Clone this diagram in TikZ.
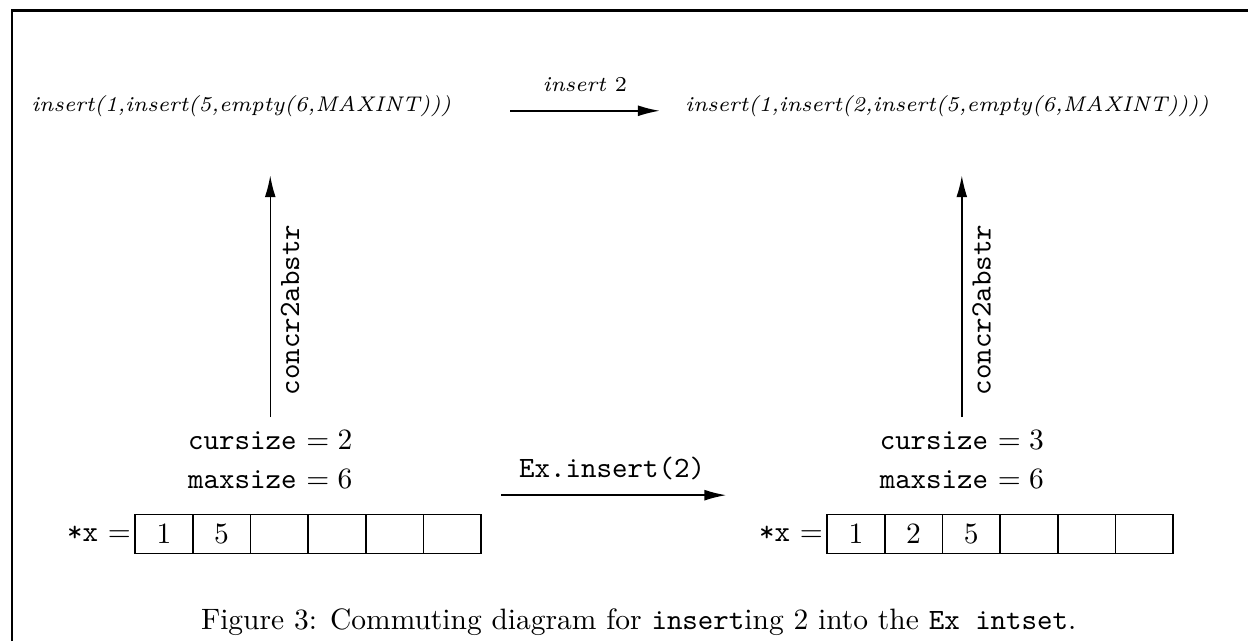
\documentclass[tikz,border=0pt]{standalone}
\usetikzlibrary{arrows.meta}
\tikzset{%
  abstr/.style = {font=\fontsize{7.2}{9}\selectfont\itshape},%
  state/.style = {anchor=base},%
  cell/.style  = {draw, line width=0.5pt, inner sep=0pt,%
                  minimum width=6.87mm, minimum height=4.65mm},%
  map/.style   = {-{Latex[length=2.6mm,width=1.3mm]}, line width=0.5pt}%
}

\begin{document}
\begin{tikzpicture}[every node/.style = {font=\normalsize}]
		\useasboundingbox (0,0) rectangle (14.87,7.64);
		\draw[line width=1pt] (0.143,0) -- (0.143,7.51) -- (14.87,7.51);
		% abstract values
		\node[abstr, anchor=base west, inner sep=0pt] (labs) at (0.37,6.31) {insert(1,insert(5,empty(6,MAXINT)))};
		\node[abstr, anchor=base west, inner sep=0pt] (rabs) at (8.16,6.31) {insert(1,insert(2,insert(5,empty(6,MAXINT))))};
		\coordinate (ins0) at (6.08,6.32);
		\coordinate (ins1) at (7.86,6.32);
		% concrete states
		\node[state] (lcur) at (3.22,2.28) {\texttt{cursize} $=2$};
		\node[state] (lmax) at (3.22,1.82) {\texttt{maxsize} $=6$};
		\node[state] (rcur) at (11.46,2.28) {\texttt{cursize} $=3$};
		\node[state] (rmax) at (11.46,1.82) {\texttt{maxsize} $=6$};
		\foreach \i/\v in {1/1,2/5,3/,4/,5/,6/}
			\node[cell] (L\i) at ({1.953+0.6874*(\i-1)},1.28) {$\v$};
		\foreach \i/\v in {1/1,2/2,3/5,4/,5/,6/}
			\node[cell] (R\i) at ({10.198+0.6874*(\i-1)},1.28) {$\v$};
		\node[anchor=east, inner sep=1pt] (lstar) at (L1.west) {\texttt{*x} $=$};
		\node[anchor=east, inner sep=1pt] (rstar) at (R1.west) {\texttt{*x} $=$};
		% the maps
		\draw[map] (ins0) -- (ins1)
			node [midway, above=1mm, abstr] {insert~\upshape 2};
		\draw[map, shorten <=0.4mm] (lcur.north) -- (lcur.north |- 0,5.55)
			node [pos=0.45, rotate=90, below] {\texttt{concr2abstr}};
		\draw[map, shorten <=0.4mm] (rcur.north) -- (rcur.north |- 0,5.55)
			node [pos=0.45, rotate=90, below] {\texttt{concr2abstr}};
		\draw[map, shorten <=2.3mm, shorten >=3.5mm] ([yshift=4.6mm]L6.east) -- ([yshift=4.6mm]rstar.west)
			node [pos=0.476, above=0.5mm] {\texttt{Ex.insert(2)}};
		\node[anchor=base] (caption) at (7.61,0.14)
			{Figure 3: Commuting diagram for \texttt{insert}ing 2 into the \texttt{Ex intset}.};
	\end{tikzpicture}
\end{document}
